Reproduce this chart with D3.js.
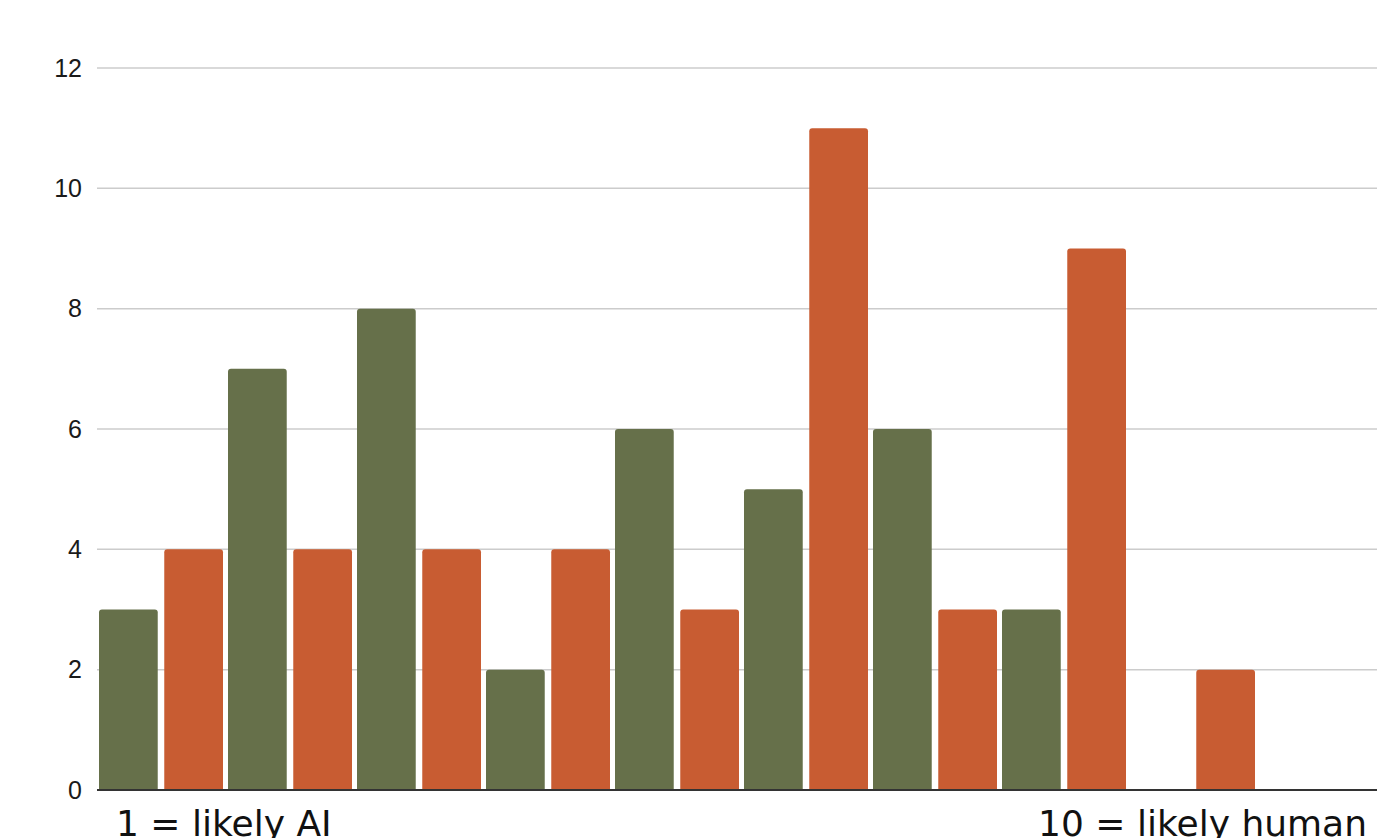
<!DOCTYPE html>
<html>
<head>
<meta charset="utf-8">
<script src="https://cdn.jsdelivr.net/npm/d3@7"></script>
<style>
  html, body { margin: 0; padding: 0; background: #fff; }
  svg { display: block; }
</style>
</head>
<body>
<svg id="chart" width="1377" height="838"></svg>
<script>
// Scores on a 1–10 scale, counts for two groups
const categories = ["1", "2", "3", "4", "5", "6", "7", "8", "9", "10"];
const seriesNames = ["groupA", "groupB"];
const groupA = [3, 7, 8, 2, 6, 5, 6, 3, 0, 0];
const groupB = [4, 4, 4, 4, 3, 11, 3, 9, 2, 0];
const yTicks = [0, 2, 4, 6, 8, 10, 12];
const colors = { groupA: "#66704a", groupB: "#c85c32" };

(function () {
  const svg = d3.select("#chart");
  const W = 1377;
  const plotLeft = 99, plotRight = 1389, plotTop = 68, plotBottom = 790;

  const x0 = d3.scaleBand().domain(categories).range([plotLeft, plotRight]).paddingInner(0).paddingOuter(0);
  const x1 = d3.scaleBand().domain(seriesNames).range([0, x0.bandwidth() - 5]).paddingInner(0.1).paddingOuter(0);
  const y = d3.scaleLinear().domain([0, 12]).range([plotBottom, plotTop]);

  // horizontal gridlines
  svg.append("g")
    .selectAll("line")
    .data(yTicks.filter(t => t > 0))
    .join("line")
    .attr("x1", plotLeft - 2).attr("x2", W)
    .attr("y1", d => y(d)).attr("y2", d => y(d))
    .attr("stroke", "#cccccc").attr("stroke-width", 1.5);

  // y axis labels
  const yAxis = d3.axisLeft(y).tickValues(yTicks).tickSize(0).tickPadding(17);
  const yg = svg.append("g").attr("transform", `translate(${plotLeft},0)`).call(yAxis);
  yg.select(".domain").remove();
  yg.selectAll("text")
    .attr("font-family", "Arial, 'Liberation Sans', sans-serif")
    .attr("font-size", 25)
    .attr("fill", "#1a1a1a");

  // bars with slightly rounded tops
  const rows = categories.map((c, i) => ({ c, groupA: groupA[i], groupB: groupB[i] }));
  function barPath(x, w, v) {
    const y0 = y(0), yt = y(v), r = Math.min(3, (y0 - yt) / 2);
    return `M${x},${y0}V${yt + r}Q${x},${yt} ${x + r},${yt}H${x + w - r}Q${x + w},${yt} ${x + w},${yt + r}V${y0}Z`;
  }
  svg.append("g")
    .selectAll("g")
    .data(rows)
    .join("g")
    .attr("transform", d => `translate(${x0(d.c)},0)`)
    .selectAll("path")
    .data(d => seriesNames.map(k => ({ k, v: d[k] })).filter(e => e.v > 0))
    .join("path")
    .attr("d", e => barPath(x1(e.k), x1.bandwidth(), e.v))
    .attr("fill", e => colors[e.k]);

  // baseline
  svg.append("line")
    .attr("x1", plotLeft - 2).attr("x2", W)
    .attr("y1", y(0)).attr("y2", y(0))
    .attr("stroke", "#333").attr("stroke-width", 2);

  // scale end labels
  const lbl = svg.append("g")
    .attr("font-family", "'DejaVu Sans', sans-serif")
    .attr("font-size", 36)
    .attr("fill", "#111");
  lbl.append("text").attr("x", 116).attr("y", 836).text("1 = likely AI");
  lbl.append("text").attr("x", 1367).attr("y", 836).attr("text-anchor", "end").text("10 = likely human");
})();
</script>
</body>
</html>
